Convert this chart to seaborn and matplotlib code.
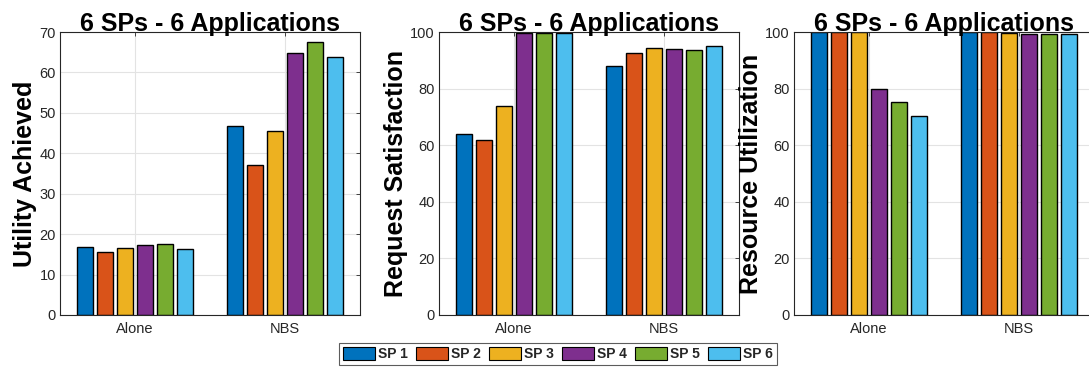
import matplotlib
matplotlib.use("Agg")
import matplotlib.pyplot as plt
import seaborn as sns
import pandas as pd
from matplotlib.patches import Patch

sns.set_theme(style="white")
plt.rcParams["font.family"] = ["Liberation Sans", "DejaVu Sans"]

scenarios = ["Alone", "NBS"]
providers = ["SP 1", "SP 2", "SP 3", "SP 4", "SP 5", "SP 6"]
colors = ["#0072BD", "#D95319", "#EDB120", "#7E2F8E", "#77AC30", "#4DBEEE"]

utility_alone = [16.8, 15.5, 16.6, 17.4, 17.6, 16.4]
utility_nbs = [46.8, 37.2, 45.4, 64.8, 67.6, 63.7]
satisfaction_alone = [63.8, 62.0, 73.7, 99.6, 99.6, 99.6]
satisfaction_nbs = [88.0, 92.7, 94.3, 94.0, 93.6, 95.2]
utilization_alone = [100.0, 100.0, 100.0, 80.0, 75.2, 70.3]
utilization_nbs = [100.0, 99.9, 99.8, 99.4, 99.2, 99.4]

panels = [
    ("Utility Achieved", utility_alone, utility_nbs, 70, range(0, 71, 10)),
    ("Request Satisfaction", satisfaction_alone, satisfaction_nbs, 100, range(0, 101, 20)),
    ("Resource Utilization", utilization_alone, utilization_nbs, 100, range(0, 101, 20)),
]

W, H = 1089, 368
fig = plt.figure(figsize=(W / 100, H / 100), dpi=100)

lefts = [60, 439, 794]
ax_w = 300
top, bottom = 32, 315

tick_color = "#262626"
for (ylabel, alone, nbs, ymax, yticks), lx in zip(panels, lefts):
    ax = fig.add_axes([lx / W, (H - bottom) / H, ax_w / W, (bottom - top) / H])
    df = pd.DataFrame({
        "scenario": [s for s in scenarios for _ in providers],
        "provider": providers * 2,
        "value": list(alone) + list(nbs),
    })
    sns.barplot(data=df, x="scenario", y="value", hue="provider",
                hue_order=providers, order=scenarios, palette=colors,
                width=0.8, gap=0.2, edgecolor="black", linewidth=1.0,
                saturation=1, legend=False, ax=ax, errorbar=None)
    ax.set_xlim(-0.5, 1.5)
    ax.set_ylim(0, ymax)
    ax.set_yticks(list(yticks))
    ax.set_xlabel("")
    ax.set_ylabel(ylabel, fontsize=18, fontweight="bold", color="black", labelpad=1.5)
    ax.set_title("6 SPs - 6 Applications", fontsize=18, fontweight="bold",
                 color="black", pad=1)
    ax.grid(True, color="#e3e3e3", linewidth=0.8)
    ax.set_axisbelow(True)
    ax.tick_params(direction="in", top=True, right=True, length=3,
                   labelsize=10.5, colors=tick_color, width=0.6)
    ax.tick_params(axis="x", pad=5)
    ax.tick_params(axis="y", pad=3)
    for sp in ax.spines.values():
        sp.set_color(tick_color)
        sp.set_linewidth(0.8)
        sp.set_visible(True)

handles = [Patch(facecolor=c, edgecolor="black", linewidth=0.8) for c in colors]
leg = fig.legend(handles, providers, loc="center", bbox_to_anchor=(558 / W, 1 - 354 / H),
                 ncol=6, frameon=True, fancybox=False, edgecolor="#333333",
                 prop={"weight": "bold", "size": 10}, handlelength=2.3, handleheight=1.15,
                 handletextpad=0.2, columnspacing=0.6, borderpad=0.3, borderaxespad=0)
leg.get_frame().set_linewidth(0.8)

fig.savefig("out.png", dpi=100)
